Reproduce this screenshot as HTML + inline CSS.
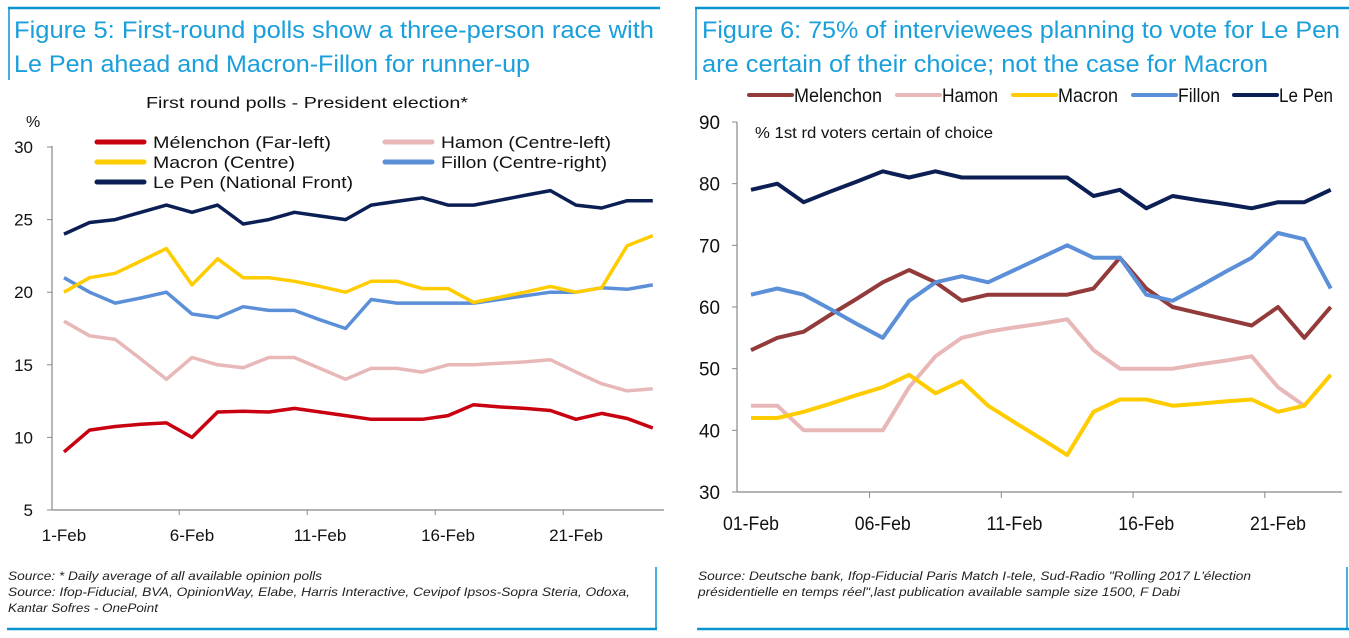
<!DOCTYPE html>
<html><head><meta charset="utf-8">
<style>
body{margin:0;width:1349px;height:638px;background:#fff;overflow:hidden;font-family:"Liberation Sans",sans-serif;}
svg{position:absolute;left:0;top:0;}
</style></head>
<body>
<svg width="1349" height="638" viewBox="0 0 1349 638">
<g stroke="#0a93d1" fill="none">
<line x1="8" y1="8" x2="660" y2="8" stroke-width="2.5"/>
<line x1="9" y1="8" x2="9" y2="80" stroke-width="1.5"/>
<line x1="656" y1="567" x2="656" y2="629" stroke-width="1.5"/>
<line x1="7" y1="629" x2="657" y2="629" stroke-width="2.5"/>
</g>
<g stroke="#0a93d1" fill="none">
<line x1="695" y1="8" x2="1349" y2="8" stroke-width="2.5"/>
<line x1="696" y1="8" x2="696" y2="80" stroke-width="1.5"/>
<line x1="1347" y1="567" x2="1347" y2="629" stroke-width="1.5"/>
<line x1="697" y1="629" x2="1349" y2="629" stroke-width="2.5"/>
</g>
<text fill="#1a9fdb" font-size="24" x="14" y="38" textLength="640" lengthAdjust="spacingAndGlyphs">Figure 5:  First-round polls show a three-person race with</text>
<text fill="#1a9fdb" font-size="24" x="14" y="72" textLength="516" lengthAdjust="spacingAndGlyphs">Le Pen ahead and Macron-Fillon for runner-up</text>
<text fill="#1a9fdb" font-size="24" x="702" y="38" textLength="638" lengthAdjust="spacingAndGlyphs">Figure 6: 75% of interviewees planning to vote for Le Pen</text>
<text fill="#1a9fdb" font-size="24" x="702" y="72" textLength="566" lengthAdjust="spacingAndGlyphs">are certain of their choice; not the case for Macron</text>
<text font-size="16" x="307" y="108" text-anchor="middle" fill="#111" textLength="322" lengthAdjust="spacingAndGlyphs">First round polls - President election*</text>
<text font-size="16" x="26" y="127" fill="#111">%</text>
<g id="left"></g>
<g id="right"></g>
<text font-size="16" x="755" y="138" fill="#111" textLength="238" lengthAdjust="spacingAndGlyphs">% 1st rd voters certain of choice</text>
<g font-size="12" font-style="italic" fill="#222">
<text x="8" y="580" textLength="314" lengthAdjust="spacingAndGlyphs">Source: * Daily average of all available opinion polls</text>
<text x="8" y="596" textLength="622" lengthAdjust="spacingAndGlyphs">Source: Ifop-Fiducial, BVA, OpinionWay, Elabe, Harris Interactive, Cevipof Ipsos-Sopra Steria, Odoxa,</text>
<text x="8" y="612" textLength="150" lengthAdjust="spacingAndGlyphs">Kantar Sofres - OnePoint</text>
</g>
<g font-size="12" font-style="italic" fill="#222">
<text x="698" y="580" textLength="553" lengthAdjust="spacingAndGlyphs">Source: Deutsche bank, Ifop-Fiducial Paris Match I-tele, Sud-Radio "Rolling 2017 L'élection</text>
<text x="698" y="596" textLength="482" lengthAdjust="spacingAndGlyphs">présidentielle en temps réel",last publication available sample size 1500, F Dabi</text>
</g>
</svg>
<script>
// Left chart data (days 1..24 Feb)
const leftDays = [1,2,3,4,5,6,7,8,9,10,11,12,13,14,15,16,17,18,19,20,21,22,23,24];
const leftLePen = [24,24.8,25,25.5,26,25.5,26,24.7,25,25.5,25.25,25,26,26.25,26.5,26,26,26.33,26.67,27,26,25.8,26.3,26.3];
const leftMacron = [20,21,21.3,22.15,23,20.5,22.3,21,21,20.75,20.4,20,20.75,20.75,20.25,20.25,19.3,19.65,20,20.4,20,20.3,23.2,23.9];
const leftFillon = [21,20,19.25,19.6,20,18.5,18.25,19,18.75,18.75,18.1,17.5,19.5,19.25,19.25,19.25,19.25,19.5,19.75,20,20,20.3,20.2,20.5];
const leftHamon = [18,17,16.75,15.4,14,15.5,15,14.8,15.5,15.5,14.75,14,14.75,14.75,14.5,15,15,15.1,15.2,15.35,14.5,13.7,13.2,13.35];
const leftMelenchon = [9,10.5,10.75,10.9,11,10,11.75,11.8,11.75,12,11.75,11.5,11.25,11.25,11.25,11.5,12.25,12.1,12,11.85,11.25,11.65,11.3,10.65];
const leftYTicks = [5,10,15,20,25,30];
const leftXLabels = ["1-Feb","6-Feb","11-Feb","16-Feb","21-Feb"];
const leftXLabelDays = [1,6,11,16,21];
// Right chart data (days 1..23 Feb)
const rightDays = [1,2,3,4,5,6,7,8,9,10,11,12,13,14,15,16,17,18,19,20,21,22,23];
const rightLePen = [79,80,77,78.7,80.3,82,81,82,81,81,81,81,81,78,79,76,78,77.3,76.7,76,77,77,79];
const rightFillon = [62,63,62,59.7,57.3,55,61,64,65,64,66,68,70,68,68,62,61,63.3,65.7,68,72,71,63];
const rightMelenchon = [53,55,56,58.7,61.3,64,66,64,61,62,62,62,62,63,68,63,60,59,58,57,60,55,60];
const rightHamon = [44,44,40,40,40,40,47,52,55,56,56.7,57.3,58,53,50,50,50,50.7,51.3,52,47,44,null];
const rightMacron = [42,42,43,44.3,45.7,47,49,46,48,44,41.3,38.7,36,43,45,45,44,44.3,44.7,45,43,44,49];
const rightYTicks = [30,40,50,60,70,80,90];
const rightXLabels = ["01-Feb","06-Feb","11-Feb","16-Feb","21-Feb"];
const rightXLabelDays = [1,6,11,16,21];

const NS="http://www.w3.org/2000/svg";
function mk(parent,tag,attrs,text){const e=document.createElementNS(NS,tag);for(const k in attrs)e.setAttribute(k,attrs[k]);if(text!=null)e.textContent=text;parent.appendChild(e);return e;}
function poly(g,xs,ys,fx,fy,color,w,name){
  let d="";let pen=false;
  for(let i=0;i<xs.length;i++){if(ys[i]==null){pen=false;continue;}d+=(pen?"L":"M")+fx(xs[i]).toFixed(1)+" "+fy(ys[i]).toFixed(1);pen=true;}
  const p=mk(g,"path",{d:d,fill:"none",stroke:color,"stroke-width":w,"stroke-linejoin":"round"});
  
  
}
// ---------- Left ----------
(function(){
  const g=document.getElementById('left');
  const fx=d=>64+(d-1)*25.6, fy=v=>147+(30-v)*(363/25);
  mk(g,"line",{x1:52,y1:146,x2:52,y2:510,stroke:"#888","stroke-width":1.2});
  mk(g,"line",{x1:52,y1:510,x2:664,y2:510,stroke:"#888","stroke-width":1.2});
  leftYTicks.forEach(v=>{
    mk(g,"line",{x1:47,y1:fy(v),x2:52,y2:fy(v),stroke:"#888"});
    const t=mk(g,"text",{x:33,y:fy(v)+6,"font-size":17,"text-anchor":"end",fill:"#111"},String(v));
    
    
  });
  [0,1,2,3].forEach(i=>{const tx=fx(leftXLabelDays[i]+4.5);mk(g,"line",{x1:tx,y1:510,x2:tx,y2:515,stroke:"#888"});});
  leftXLabels.forEach((l,i)=>{
    const t=mk(g,"text",{x:fx(leftXLabelDays[i]),y:541,"font-size":17,"text-anchor":"middle",fill:"#111"},l);
    
    
  });
  poly(g,leftDays,leftMelenchon,fx,fy,"#c8000f",3.5,"line-melenchon");
  poly(g,leftDays,leftHamon,fx,fy,"#e8b8b8",3.5,"line-hamon");
  poly(g,leftDays,leftFillon,fx,fy,"#5b8fd8",3.5,"line-fillon");
  poly(g,leftDays,leftMacron,fx,fy,"#ffcc00",3.5,"line-macron");
  poly(g,leftDays,leftLePen,fx,fy,"#0c1f55",3.5,"line-le-pen");
  const leg=[["Mélenchon (Far-left)","#c8000f",97,142,178],["Hamon (Centre-left)","#e8b8b8",385,142,170],["Macron (Centre)","#ffcc00",97,162,142],["Fillon (Centre-right)","#5b8fd8",385,162,166],["Le Pen (National Front)","#0c1f55",97,182,200]];
  leg.forEach(l=>{
    const e=mk(g,"g",{});
    
    
    mk(e,"line",{x1:l[2],y1:l[3],x2:l[2]+47,y2:l[3],stroke:l[1],"stroke-width":5,"stroke-linecap":"round"});
    mk(e,"text",{x:l[2]+56,y:l[3]+6,"font-size":17,fill:"#111",textLength:l[4],lengthAdjust:"spacingAndGlyphs"},l[0]);
  });
})();
// ---------- Right ----------
(function(){
  const g=document.getElementById('right');
  const fx=d=>751+(d-1)*26.35, fy=v=>122+(90-v)*(370/60);
  mk(g,"line",{x1:737,y1:122,x2:737,y2:492,stroke:"#888","stroke-width":1.2});
  mk(g,"line",{x1:737,y1:492,x2:1342,y2:492,stroke:"#888","stroke-width":1.2});
  rightYTicks.forEach(v=>{
    mk(g,"line",{x1:732,y1:fy(v),x2:737,y2:fy(v),stroke:"#888"});
    const t=mk(g,"text",{x:720,y:fy(v)+7,"font-size":19,"text-anchor":"end",fill:"#111",textLength:21,lengthAdjust:"spacingAndGlyphs"},String(v));
    
    
  });
  [0,1,2,3].forEach(i=>{const tx=fx(rightXLabelDays[i]+4.5);mk(g,"line",{x1:tx,y1:492,x2:tx,y2:498,stroke:"#888"});});
  rightXLabels.forEach((l,i)=>{
    const t=mk(g,"text",{x:fx(rightXLabelDays[i]),y:530,"font-size":19,"text-anchor":"middle",fill:"#111",textLength:56,lengthAdjust:"spacingAndGlyphs"},l);
    
    
  });
  poly(g,rightDays,rightHamon,fx,fy,"#e8b8b8",4,"line-hamon");
  poly(g,rightDays,rightMacron,fx,fy,"#ffcc00",4,"line-macron");
  poly(g,rightDays,rightMelenchon,fx,fy,"#933a3a",4,"line-melenchon");
  poly(g,rightDays,rightFillon,fx,fy,"#5b8fd8",4,"line-fillon");
  poly(g,rightDays,rightLePen,fx,fy,"#0c1f55",4,"line-le-pen");
  const leg=[["Melenchon","#933a3a",749,88],["Hamon","#e8b8b8",897,56],["Macron","#ffcc00",1013,60],["Fillon","#5b8fd8",1133,42],["Le Pen","#0c1f55",1234,54]];
  leg.forEach(l=>{
    const e=mk(g,"g",{});
    
    
    mk(e,"line",{x1:l[2],y1:95,x2:l[2]+43,y2:95,stroke:l[1],"stroke-width":4,"stroke-linecap":"round"});
    mk(e,"text",{x:l[2]+45,y:102,"font-size":19,fill:"#111",textLength:l[3],lengthAdjust:"spacingAndGlyphs"},l[0]);
  });
})();
</script>
</body></html>
